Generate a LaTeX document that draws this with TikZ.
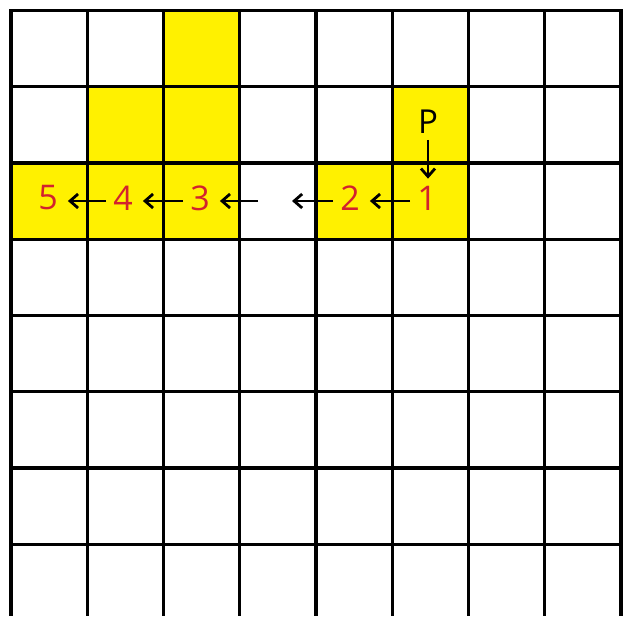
\documentclass[tikz,border=0pt]{standalone}
\usepackage{fontspec}
\setmainfont{Open Sans}
\usetikzlibrary{arrows.meta}
\definecolor{cellyellow}{RGB}{255,241,0}
\definecolor{numred}{RGB}{210,34,46}
\begin{document}
\begin{tikzpicture}[x=1pt,y=-1pt,
  gridline/.style={line width=3.2pt,black},
  cellfill/.style={fill=cellyellow},
  num/.style={inner sep=0pt,text=numred,font=\fontsize{34}{40}\selectfont},
  letter/.style={inner sep=0pt,text=black,font=\fontsize{33}{40}\selectfont},
  arr/.style={line width=2.8pt,-{Straight Barb[length=8pt,width=14pt]},shorten <=7pt,shorten >=10pt}]
\useasboundingbox (0,0) rectangle (624,616);
\def\c{76.25}
% yellow cells
\foreach \col/\row in {2/0,1/1,2/1,5/1,0/2,1/2,2/2,4/2,5/2}
  \fill[cellfill] ({11+\col*\c},{10.5+\row*\c}) rectangle ++(\c,\c);
% grid
\foreach \i in {0,...,8}
  \draw[gridline] ({11+\i*\c},10.5) -- ({11+\i*\c},616);
\foreach \j in {0,...,7}
  \draw[gridline] (9.4,{10.5+\j*\c}) -- (622.6,{10.5+\j*\c});
% labels
\node[num] (n1) at (427,198) {1};
\node[num] (n2) at (350,198) {2};
\node[num] (n3) at (200,198) {3};
\node[num] (n4) at (123,198) {4};
\node[num] (n5) at (48,198) {5};
\node[letter] (P) at (428,122) {P};
\coordinate (g1) at (258,201);
\coordinate (g2) at (292,201);
% arrows
\draw[arr] ([yshift=-3pt]n1.west) -- ([yshift=-3pt]n2.east);
\draw[arr,shorten >=0pt] ([yshift=-3pt]n2.west) -- (g2);
\draw[arr,shorten <=0pt] (g1) -- ([yshift=-3pt]n3.east);
\draw[arr] ([yshift=-3pt]n3.west) -- ([yshift=-3pt]n4.east);
\draw[arr] ([yshift=-3pt]n4.west) -- ([yshift=-3pt]n5.east);
\draw[arr,shorten <=6pt,shorten >=7pt] (P.south) -- (P.south |- n1.north);
\end{tikzpicture}
\end{document}
